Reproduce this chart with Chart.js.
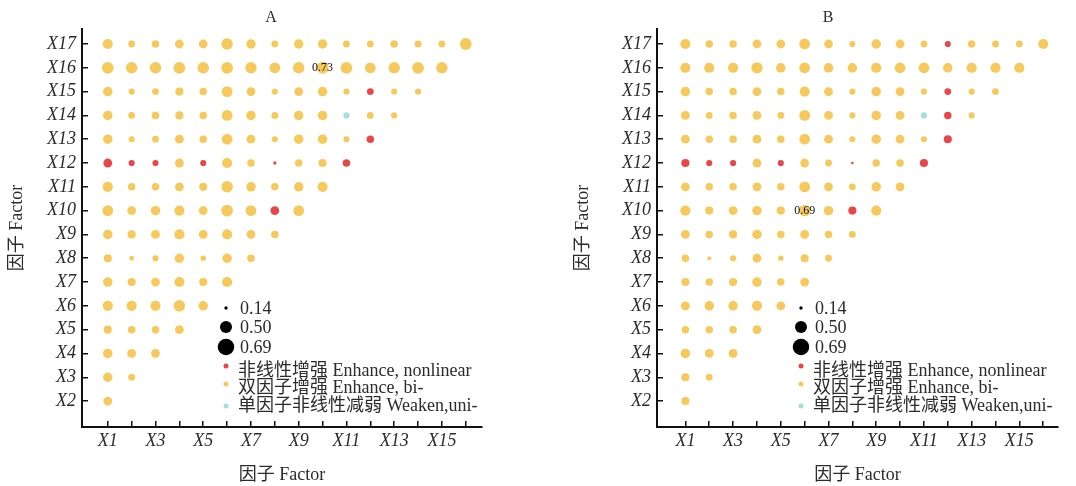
<!DOCTYPE html>
<html>
<head>
<meta charset="utf-8">
<script src="https://cdn.jsdelivr.net/npm/chart.js@4.4.1/dist/chart.umd.min.js"></script>
<style>
  html, body { margin: 0; padding: 0; background: #fff; overflow: hidden; width: 1076px; height: 486px; }
  .panel { position: absolute; top: 0; }
  #chartA { left: 0; }
  #chartB { left: 570px; }
</style>
</head>
<body>
<canvas id="chartA" class="panel" width="542" height="486"></canvas>
<canvas id="chartB" class="panel" width="516" height="486"></canvas>
<script>
// q-values of the factor interactions, one row per factor X2..X17 (columns X1..X(n-1))
const qA = [
  [0.53],
  [0.57, 0.41],
  [0.57, 0.53, 0.53],
  [0.49, 0.45, 0.45, 0.53],
  [0.61, 0.61, 0.61, 0.69, 0.57],
  [0.57, 0.49, 0.53, 0.61, 0.49, 0.61],
  [0.49, 0.29, 0.37, 0.57, 0.33, 0.57, 0.45],
  [0.57, 0.49, 0.53, 0.61, 0.53, 0.61, 0.53, 0.45],
  [0.65, 0.53, 0.57, 0.61, 0.53, 0.71, 0.65, 0.53, 0.65],
  [0.61, 0.45, 0.45, 0.53, 0.49, 0.69, 0.57, 0.45, 0.57, 0.61],
  [0.53, 0.37, 0.37, 0.53, 0.37, 0.61, 0.45, 0.20, 0.45, 0.49, 0.45],
  [0.57, 0.37, 0.41, 0.53, 0.45, 0.65, 0.53, 0.37, 0.57, 0.57, 0.37, 0.45],
  [0.57, 0.41, 0.45, 0.49, 0.45, 0.65, 0.57, 0.41, 0.57, 0.57, 0.37, 0.41, 0.37],
  [0.57, 0.37, 0.41, 0.49, 0.45, 0.65, 0.53, 0.37, 0.53, 0.57, 0.37, 0.41, 0.37, 0.37],
  [0.71, 0.69, 0.69, 0.71, 0.69, 0.71, 0.69, 0.65, 0.69, 0.73, 0.71, 0.65, 0.69, 0.71, 0.69],
  [0.61, 0.41, 0.45, 0.53, 0.53, 0.69, 0.57, 0.41, 0.57, 0.57, 0.41, 0.41, 0.45, 0.41, 0.41, 0.71]
];
// interaction type per cell: b = bi-factor enhance, r = nonlinear enhance, c = uni-factor nonlinear weaken
const typeA = [
  'b',
  'bb',
  'bbb',
  'bbbb',
  'bbbbb',
  'bbbbbb',
  'bbbbbbb',
  'bbbbbbbb',
  'bbbbbbbrb',
  'bbbbbbbbbb',
  'rrrbrbbrbbr',
  'bbbbbbbbbbbr',
  'bbbbbbbbbbcbb',
  'bbbbbbbbbbbrbb',
  'bbbbbbbbbbbbbbb',
  'bbbbbbbbbbbbbbbb'
];

const qB = [
  [0.49],
  [0.49, 0.41],
  [0.57, 0.53, 0.53],
  [0.45, 0.45, 0.45, 0.53],
  [0.53, 0.57, 0.57, 0.61, 0.53],
  [0.49, 0.45, 0.49, 0.57, 0.45, 0.53],
  [0.45, 0.25, 0.37, 0.53, 0.33, 0.49, 0.41],
  [0.53, 0.45, 0.49, 0.57, 0.45, 0.53, 0.45, 0.41],
  [0.61, 0.49, 0.53, 0.57, 0.49, 0.69, 0.57, 0.49, 0.61],
  [0.53, 0.45, 0.45, 0.53, 0.45, 0.65, 0.53, 0.41, 0.57, 0.53],
  [0.49, 0.37, 0.37, 0.53, 0.37, 0.53, 0.41, 0.16, 0.45, 0.45, 0.49],
  [0.53, 0.45, 0.45, 0.53, 0.45, 0.65, 0.53, 0.37, 0.57, 0.53, 0.37, 0.49],
  [0.53, 0.41, 0.45, 0.53, 0.41, 0.65, 0.53, 0.37, 0.57, 0.53, 0.37, 0.45, 0.37],
  [0.57, 0.45, 0.45, 0.53, 0.45, 0.61, 0.53, 0.37, 0.57, 0.53, 0.37, 0.41, 0.37, 0.41],
  [0.61, 0.61, 0.61, 0.68, 0.57, 0.65, 0.57, 0.57, 0.61, 0.65, 0.65, 0.57, 0.61, 0.61, 0.61],
  [0.61, 0.45, 0.45, 0.53, 0.53, 0.65, 0.53, 0.37, 0.57, 0.53, 0.41, 0.37, 0.45, 0.41, 0.41, 0.61]
];
const typeB = [
  'b',
  'bb',
  'bbb',
  'bbbb',
  'bbbbb',
  'bbbbbb',
  'bbbbbbb',
  'bbbbbbbb',
  'bbbbbbbrb',
  'bbbbbbbbbb',
  'rrrbrbbrbbr',
  'bbbbbbbbbbbr',
  'bbbbbbbbbbcrb',
  'bbbbbbbbbbbrbb',
  'bbbbbbbbbbbbbbb',
  'bbbbbbbbbbbrbbbb'
];

const xFactors = [1, 2, 3, 4, 5, 6, 7, 8, 9, 10, 11, 12, 13, 14, 15, 16];
const yFactors = [2, 3, 4, 5, 6, 7, 8, 9, 10, 11, 12, 13, 14, 15, 16, 17];
const sizeLegend = [0.14, 0.50, 0.69];
const typeLegend = ['非线性增强 Enhance, nonlinear', '双因子增强 Enhance, bi-', '单因子非线性减弱 Weaken,uni-'];

const COLORS = { r: '#e8474a', b: '#f6c95c', c: '#a8dce0' };
const TEXT = '#2b2b2b';
const FONT = "'Liberation Serif', 'Noto Sans CJK SC', serif";
const R_SCALE = 8.3;      // bubble radius per unit q
const LEGEND_SCALE = 12;  // legend circles are drawn bigger in the original

function buildPoints(q, types) {
  const pts = [];
  q.forEach((row, i) => {
    row.forEach((v, j) => {
      pts.push({ x: xFactors[j], y: yFactors[i], v: v, t: types[i][j] });
    });
  });
  return pts;
}

// panel letter, size / type legend and the max-value label
const overlayPlugin = {
  id: 'overlay',
  afterDatasetsDraw(chart, args, opts) {
    const { ctx, chartArea } = chart;
    const left = chartArea.left;
    const top = chartArea.top;
    ctx.save();

    ctx.fillStyle = TEXT;
    ctx.font = '16px ' + FONT;
    ctx.textAlign = 'center';
    ctx.textBaseline = 'middle';
    ctx.fillText(opts.title, opts.titleX, 18);

    // max value label
    const pts = chart.data.datasets[0].data;
    let maxP = pts[0];
    pts.forEach(p => { if (p.v > maxP.v) maxP = p; });
    const xs = chart.scales.x, ys = chart.scales.y;
    ctx.fillStyle = '#111';
    ctx.font = '12px ' + FONT;
    ctx.fillText(maxP.v.toFixed(2), xs.getPixelForValue(maxP.x), ys.getPixelForValue(maxP.y) + 0.5);

    // size legend
    const sizeY = [279, 298, 318];
    ctx.font = '18px ' + FONT;
    ctx.textAlign = 'left';
    sizeLegend.forEach((v, i) => {
      ctx.fillStyle = '#000';
      ctx.beginPath();
      ctx.arc(left + 144, top + sizeY[i], v * LEGEND_SCALE, 0, Math.PI * 2);
      ctx.fill();
      ctx.fillStyle = TEXT;
      ctx.fillText(v.toFixed(2), left + 158, top + sizeY[i] + 1.5);
    });

    // type legend
    const dotY = [337, 355, 377];
    const txtY = [342, 359, 377];
    const keys = ['r', 'b', 'c'];
    typeLegend.forEach((label, i) => {
      ctx.fillStyle = COLORS[keys[i]];
      ctx.beginPath();
      ctx.arc(left + 144, top + dotY[i], 2.5, 0, Math.PI * 2);
      ctx.fill();
      ctx.fillStyle = TEXT;
      ctx.fillText(label, left + 156, top + txtY[i]);
    });
    ctx.restore();
  }
};

function makeChart(id, title, titleX, q, types, xMin, xMax, axisWidth, padRight, yTitlePad) {
  return new Chart(document.getElementById(id), {
    type: 'scatter',
    data: {
      datasets: [{
        data: buildPoints(q, types),
        pointRadius: ctx => ctx.raw ? ctx.raw.v * R_SCALE : 0,
        pointHoverRadius: ctx => ctx.raw ? ctx.raw.v * R_SCALE : 0,
        pointBackgroundColor: ctx => ctx.raw ? COLORS[ctx.raw.t] : COLORS.b,
        pointBorderWidth: 0,
        pointHoverBorderWidth: 0
      }]
    },
    options: {
      responsive: false,
      animation: false,
      events: [],
      layout: { padding: { left: 0, right: padRight, top: 29, bottom: 0 } },
      plugins: {
        legend: { display: false },
        tooltip: { enabled: false },
        title: { display: false },
        overlay: { title: title, titleX: titleX }
      },
      scales: {
        x: {
          type: 'linear',
          min: xMin,
          max: xMax,
          afterBuildTicks: s => { s.ticks = xFactors.map(v => ({ value: v })); },
          afterFit: s => { s.height = 59; },
          border: { display: true, color: '#111', width: 2 },
          grid: { drawOnChartArea: false, drawTicks: true, tickLength: -6, color: '#111', lineWidth: 1.5 },
          ticks: {
            autoSkip: false,
            maxRotation: 0,
            padding: 9,
            color: TEXT,
            font: { family: FONT, size: 18, style: 'italic' },
            callback: v => (v % 2 === 1 ? 'X' + v : '')
          },
          title: {
            display: true,
            text: '因子 Factor',
            color: TEXT,
            font: { family: FONT, size: 18 },
            padding: { top: 0, bottom: 0 }
          }
        },
        y: {
          type: 'linear',
          min: 0.91,
          max: 17.63,
          afterBuildTicks: s => { s.ticks = yFactors.map(v => ({ value: v })); },
          afterFit: s => { s.width = axisWidth; },
          border: { display: true, color: '#111', width: 2 },
          grid: { drawOnChartArea: false, drawTicks: true, tickLength: -6, color: '#111', lineWidth: 1.5 },
          ticks: {
            autoSkip: false,
            padding: 12,
            color: TEXT,
            font: { family: FONT, size: 18, style: 'italic' },
            callback: v => 'X' + v
          },
          title: {
            display: true,
            text: '因子 Factor',
            color: TEXT,
            font: { family: FONT, size: 18 },
            padding: { top: yTitlePad, bottom: 0 }
          }
        }
      }
    },
    plugins: [overlayPlugin]
  });
}

makeChart('chartA', 'A', 271, qA, typeA, -0.08, 16.68, 82, 60, 6);
makeChart('chartB', 'B', 258, qB, typeB, -0.19, 16.62, 87, 28, 2);
</script>
</body>
</html>
